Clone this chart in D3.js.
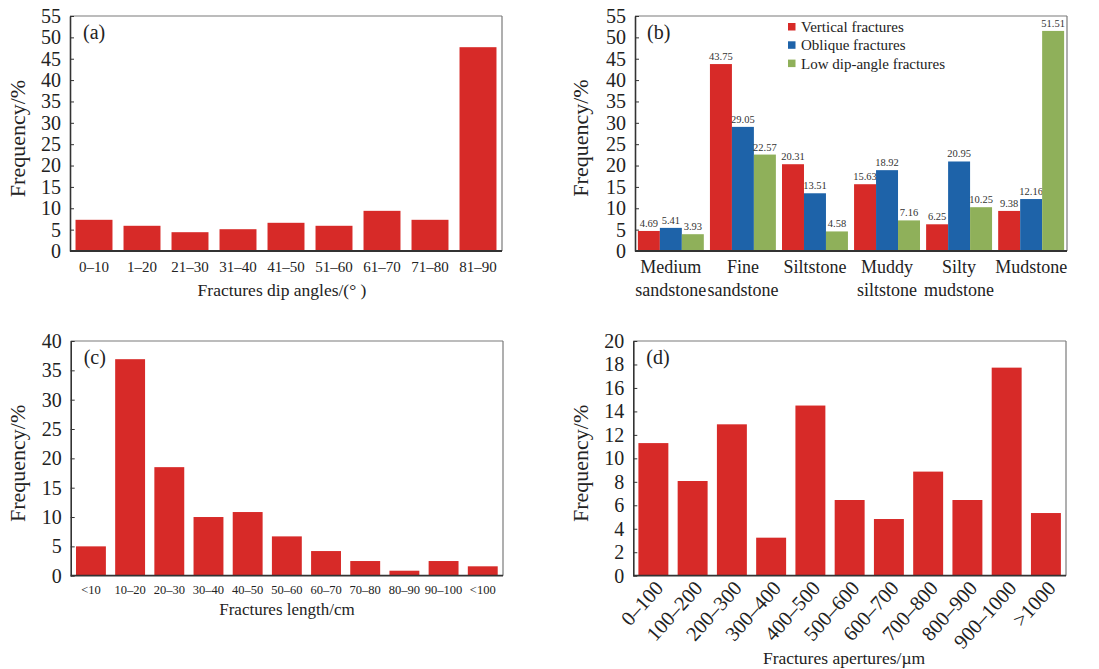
<!DOCTYPE html>
<html>
<head>
<meta charset="utf-8">
<script src="https://cdn.jsdelivr.net/npm/d3@7"></script>
<style>
  html, body { margin: 0; padding: 0; background: #fff; }
  svg { display: block; }
  svg text { font-family: "Liberation Serif", "Times New Roman", Times, "DejaVu Serif", serif; }
</style>
</head>
<body>
<svg id="chart" width="1099" height="669"></svg>
<script>
// (a) dip angle distribution
const dipCategories = ["0\u201310", "1\u201320", "21\u201330", "31\u201340", "41\u201350", "51\u201360", "61\u201370", "71\u201380", "81\u201390"];
const dipValues = [7.3, 5.9, 4.4, 5.1, 6.6, 5.9, 9.4, 7.3, 47.7];
const dipTicks = [0, 5, 10, 15, 20, 25, 30, 35, 40, 45, 50, 55];

// (b) fracture types by lithology
const lithCategories = [["Medium", "sandstone"], ["Fine", "sandstone"], ["Siltstone"], ["Muddy", "siltstone"], ["Silty", "mudstone"], ["Mudstone"]];
const seriesNames = ["Vertical fractures", "Oblique fractures", "Low dip-angle fractures"];
const verticalValues = [4.69, 43.75, 20.31, 15.63, 6.25, 9.38];
const obliqueValues = [5.41, 29.05, 13.51, 18.92, 20.95, 12.16];
const lowDipValues = [3.93, 22.57, 4.58, 7.16, 10.25, 51.51];
const lithTicks = [0, 5, 10, 15, 20, 25, 30, 35, 40, 45, 50, 55];

// (c) fracture length distribution
const lengthCategories = ["<10", "10\u201320", "20\u201330", "30\u201340", "40\u201350", "50\u201360", "60\u201370", "70\u201380", "80\u201390", "90\u2013100", "<100"];
const lengthValues = [5.0, 36.9, 18.5, 10.0, 10.85, 6.7, 4.2, 2.5, 0.85, 2.5, 1.6];
const lengthTicks = [0, 5, 10, 15, 20, 25, 30, 35, 40];

// (d) fracture aperture distribution
const apertureCategories = ["0\u2013100", "100\u2013200", "200\u2013300", "300\u2013400", "400\u2013500", "500\u2013600", "600\u2013700", "700\u2013800", "800\u2013900", "900\u20131000", ">1000"];
const apertureValues = [11.3, 8.07, 12.9, 3.24, 14.5, 6.45, 4.83, 8.87, 6.45, 17.73, 5.34];
const apertureTicks = [0, 2, 4, 6, 8, 10, 12, 14, 16, 18, 20];

const RED = "#d72a28", BLUE = "#1e63a9", GREEN = "#8fb05a";
const seriesColors = [RED, BLUE, GREEN];
const SERIF = "'Liberation Serif', 'Times New Roman', Times, 'DejaVu Serif', serif";

const svg = d3.select("#chart");

// Frame + y axis with inward ticks
function drawFrame(g, x0, x1, y, ticks) {
  const [yb, yt] = y.range();
  g.append("line").attr("x1", x0).attr("x2", x1).attr("y1", yt).attr("y2", yt)
    .attr("stroke", "#7a7a7a").attr("stroke-width", 1.2);
  g.append("line").attr("x1", x1).attr("x2", x1).attr("y1", yt).attr("y2", yb)
    .attr("stroke", "#7a7a7a").attr("stroke-width", 1.2);
  const ax = g.append("g").attr("transform", `translate(${x0},0)`)
    .call(d3.axisLeft(y).tickValues(ticks).tickSizeInner(-4).tickSizeOuter(0).tickPadding(9));
  ax.attr("font-family", SERIF);
  ax.select(".domain").attr("stroke", "#333").attr("stroke-width", 1.6);
  ax.selectAll(".tick line").attr("stroke", "#333");
  ax.selectAll(".tick text").attr("font-size", 20).attr("fill", "#222");
  g.append("line").attr("x1", x0).attr("x2", x1).attr("y1", yb).attr("y2", yb)
    .attr("stroke", "#333").attr("stroke-width", 1.8);
}

function txt(g) {
  return g.append("text").attr("font-family", SERIF).attr("fill", "#222");
}

function yLabel(g, x, yc) {
  txt(g).attr("transform", `translate(${x},${yc}) rotate(-90)`)
    .attr("text-anchor", "middle").attr("dominant-baseline", "middle")
    .attr("font-size", 22).text("Frequency/%");
}

function panelTag(g, x, y, t) {
  txt(g).attr("x", x).attr("y", y).attr("font-size", 20).text(t);
}

// Single-series bar panel
function barPanel(opt) {
  const g = svg.append("g");
  const x = d3.scaleBand().domain(opt.categories).range([opt.x0, opt.x1])
    .paddingInner(opt.padIn).paddingOuter(opt.padOut);
  const y = d3.scaleLinear().domain([0, opt.ymax]).range([opt.yb, opt.yt]);
  g.selectAll("rect").data(opt.values).join("rect")
    .attr("x", (d, i) => x(opt.categories[i]))
    .attr("width", x.bandwidth())
    .attr("y", d => y(d))
    .attr("height", d => y(0) - y(d))
    .attr("fill", RED);
  drawFrame(g, opt.x0, opt.x1, y, opt.ticks);
  yLabel(g, opt.ylabX, (opt.yb + opt.yt) / 2 + 5);
  panelTag(g, opt.x0 + 13, opt.yt + 23, opt.tag);
  return { g, x, y };
}

// (a)
const pa = barPanel({ categories: dipCategories, values: dipValues, ticks: dipTicks, ymax: 55,
  x0: 70, x1: 502, yb: 251, yt: 16, padIn: 0.23, padOut: 0.115, ylabX: 20, tag: "(a)" });
pa.g.selectAll(".xl").data(dipCategories).join("text").attr("class", "xl")
  .attr("font-family", SERIF)
  .attr("x", d => pa.x(d) + pa.x.bandwidth() / 2).attr("y", 272)
  .attr("text-anchor", "middle").attr("font-size", 15).attr("fill", "#222").text(d => d);
txt(pa.g).attr("x", 282).attr("y", 296).attr("text-anchor", "middle")
  .attr("font-size", 17.5).text("Fractures dip angles/(\u00b0 )");

// (b)
{
  const g = svg.append("g");
  const x0 = 635, x1 = 1067, yb = 251, yt = 16;
  const keys = lithCategories.map(d => d.join(" "));
  const x = d3.scaleBand().domain(keys).range([x0, x1]).paddingInner(0.085).paddingOuter(0.04);
  const xs = d3.scaleBand().domain(seriesNames).range([0, x.bandwidth()]);
  const y = d3.scaleLinear().domain([0, 55]).range([yb, yt]);
  const series = [verticalValues, obliqueValues, lowDipValues];
  series.forEach((vals, s) => {
    const sg = g.append("g");
    sg.selectAll("rect").data(vals).join("rect")
      .attr("x", (d, i) => x(keys[i]) + xs(seriesNames[s]))
      .attr("width", xs.bandwidth())
      .attr("y", d => y(d))
      .attr("height", d => y(0) - y(d))
      .attr("fill", seriesColors[s]);
    sg.selectAll("text").data(vals).join("text")
      .attr("font-family", SERIF)
      .attr("x", (d, i) => x(keys[i]) + xs(seriesNames[s]) + xs.bandwidth() / 2)
      .attr("y", d => y(d) - 4)
      .attr("text-anchor", "middle").attr("font-size", 10.5).attr("fill", "#333")
      .text(d => d.toFixed(2));
  });
  drawFrame(g, x0, x1, y, lithTicks);
  yLabel(g, 583, 138);
  panelTag(g, 647, 39, "(b)");
  lithCategories.forEach((lines, i) => {
    const cx = x(keys[i]) + x.bandwidth() / 2;
    lines.forEach((t, j) => {
      txt(g).attr("x", cx).attr("y", 273 + j * 23).attr("text-anchor", "middle")
        .attr("font-size", 18).text(t);
    });
  });
  const lg = g.append("g");
  seriesNames.forEach((n, i) => {
    lg.append("rect").attr("x", 788).attr("y", 23 + i * 18.3).attr("width", 7.5).attr("height", 7.5)
      .attr("fill", seriesColors[i]);
    txt(lg).attr("x", 801).attr("y", 32 + i * 18.3).attr("font-size", 15).text(n);
  });
}

// (c)
const pc = barPanel({ categories: lengthCategories, values: lengthValues, ticks: lengthTicks, ymax: 40,
  x0: 70.7, x1: 503, yb: 575.7, yt: 341, padIn: 0.237, padOut: 0.135, ylabX: 20, tag: "(c)" });
pc.g.selectAll(".xl").data(lengthCategories).join("text").attr("class", "xl")
  .attr("font-family", SERIF)
  .attr("x", d => pc.x(d) + pc.x.bandwidth() / 2).attr("y", 594)
  .attr("text-anchor", "middle").attr("font-size", 12.5).attr("fill", "#222").text(d => d);
txt(pc.g).attr("x", 287).attr("y", 615).attr("text-anchor", "middle")
  .attr("font-size", 17).text("Fractures length/cm");

// (d)
const pd = barPanel({ categories: apertureCategories, values: apertureValues, ticks: apertureTicks, ymax: 20,
  x0: 633.3, x1: 1066, yb: 575.7, yt: 341, padIn: 0.237, padOut: 0.13, ylabX: 583, tag: "(d)" });
pd.g.selectAll(".xl").data(apertureCategories).join("text").attr("class", "xl")
  .attr("font-family", SERIF)
  .attr("transform", d => `translate(${pd.x(d) + pd.x.bandwidth() / 2 + 11},${589}) rotate(-48)`)
  .attr("text-anchor", "end").attr("font-size", 20.5).attr("fill", "#222").text(d => d);
txt(pd.g).attr("x", 844).attr("y", 664).attr("text-anchor", "middle")
  .attr("font-size", 17.5).text("Fractures apertures/\u00b5m");
</script>
</body>
</html>
